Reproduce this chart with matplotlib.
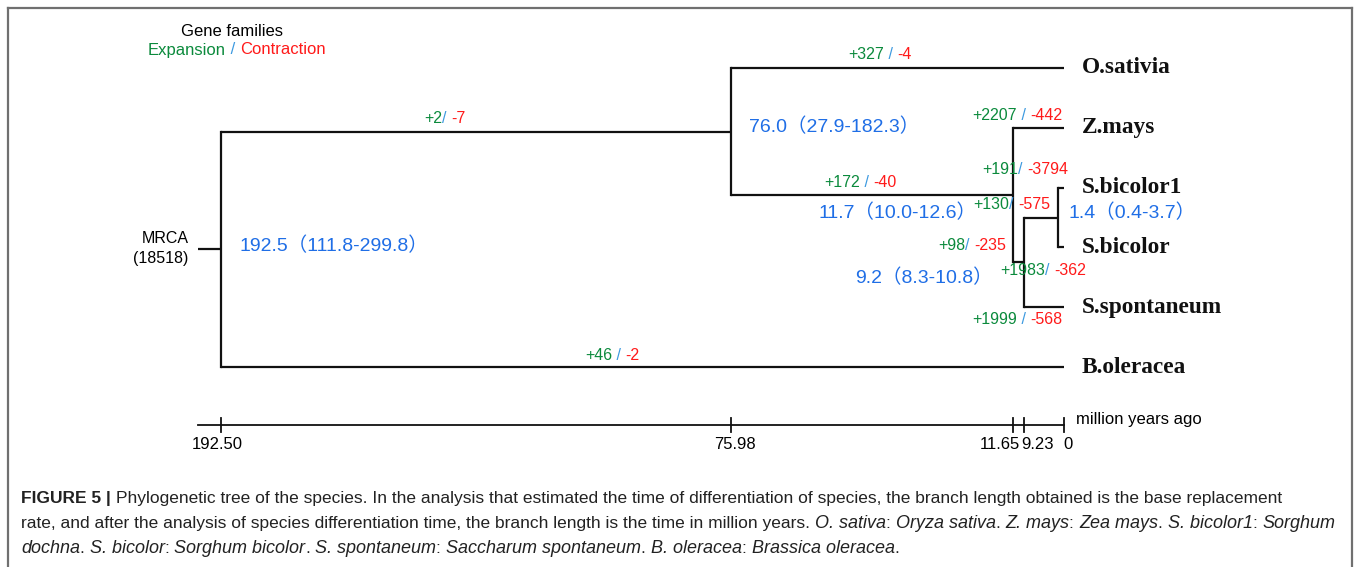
import matplotlib
matplotlib.use("Agg")
import matplotlib.pyplot as plt
from matplotlib.lines import Line2D
from matplotlib.transforms import IdentityTransform

# ---- data ----
species = ["O.sativia", "Z.mays", "S.bicolor1", "S.bicolor", "S.spontaneum", "B.oleracea"]
# tree topology (tip indexes into species) and node ages (Myr)
tree = ("root", [("A", [0, ("B", [1, ("C", [("D", [2, 3]), 4])])]), 5])
node_age = {"root": 192.50, "A": 75.98, "B": 11.65, "C": 9.23, "D": 1.40}

# divergence time estimates (mean, 95% interval)
div_mean = [192.5, 76.0, 11.7, 9.2, 1.4]
div_low = [111.8, 27.9, 10.0, 8.3, 0.4]
div_high = [299.8, 182.3, 12.6, 10.8, 3.7]

# gene family expansion / contraction
gains = ["+2", "+327", "+172", "+2207", "+191", "+130", "+98", "+1983", "+1999", "+46"]
losses = ["-7", "-4", "-40", "-442", "-3794", "-575", "-235", "-362", "-568", "-2"]
seps = ["/ ", " / ", " / ", " / ", "/ ", "/ ", "/ ", "/ ", " / ", " / "]

tick_values = [192.50, 75.98, 11.65, 9.23, 0]
tick_labels = ["192.50", "75.98", "11.65", "9.23", "0"]

# ---- layout ----
W, H = 1354, 567
GREEN, RED, SLASH, BLUE = "#0b8a3c", "#ff1a1a", "#3d9ae0", "#1f6ee6"
SANS = ["Liberation Sans", "Noto Sans CJK SC"]

# positions of the annotations (time, row)
gene_pos = [(141.4, 0.84), (42.0, -0.22), (46.6, 1.92), (10.7, 0.79), (8.9, 1.69),
            (11.9, 2.29), (21.0, 2.96), (4.8, 3.38), (10.7, 4.20), (103.2, 4.80)]
date_pos = [(188.2, 2.98), (71.9, 0.99), (56.2, 2.43), (47.7, 3.51), (-1.1, 2.43)]
axis_row = 5.97
tick_off = [-4, 4, -13, 14, 4]  # label offsets in px

fig = plt.figure(figsize=(W / 100, H / 100), dpi=100)
ax = fig.add_axes([0, 0, 1, 1])
ax.set_xlim(243.0, -66.2)
ax.set_ylim(8.344, -1.137)
ax.axis("off")

LW = 1.6


def draw(node, parent_age):
    if isinstance(node, int):
        ax.plot([parent_age, 0], [node, node], color="#111111", lw=LW, solid_capstyle="butt")
        return node
    name, kids = node
    age = node_age[name]
    ys = [draw(k, age) for k in kids]
    y = (ys[0] + ys[-1]) / 2
    ax.plot([age, age], [ys[0], ys[-1]], color="#111111", lw=LW, solid_capstyle="projecting")
    ax.plot([parent_age, age], [y, y], color="#111111", lw=LW, solid_capstyle="butt")
    return y


root_y = draw(tree, 197.8)

# tip labels
for i, sp in enumerate(species):
    ax.text(-4.0, i, sp, fontsize=16.8, fontweight="bold", family="Liberation Serif",
            va="center", ha="left", color="#111111")

# MRCA
ax.text(200.0, root_y - 0.18, "MRCA", fontsize=11.5, family=SANS, ha="right", va="center")
ax.text(200.0, root_y + 0.16, "(18518)", fontsize=11.5, family=SANS, ha="right", va="center")

# divergence times
for (t, r), m, lo, hi in zip(date_pos, div_mean, div_low, div_high):
    ax.text(t, r, f"{m}（{lo}-{hi}）", fontsize=14, family=SANS, color=BLUE,
            ha="left", va="center")

# time axis
ax.plot([197.8, 0], [axis_row, axis_row], color="#111111", lw=1.3)
for v, lab, off in zip(tick_values, tick_labels, tick_off):
    ax.plot([v, v], [axis_row - 0.11, axis_row + 0.11], color="#111111", lw=1.3)
    ax.annotate(lab, (v, axis_row + 0.32), xytext=(off * 0.72, 0), textcoords="offset points",
                fontsize=12, family=SANS, ha="center", va="center")
ax.text(-2.8, axis_row - 0.1, "million years ago", fontsize=12, family=SANS,
        ha="left", va="center")

renderer = fig.canvas.get_renderer()
ident = IdentityTransform()


def runs_at(x, y, runs, size, center=False, va="baseline"):
    arts = []
    for s, kw in runs:
        kw = dict(kw)
        sz = kw.pop("size", size)
        arts.append(fig.text(0, y, s, transform=ident, fontsize=sz, va=va, **kw))
    widths = [a.get_window_extent(renderer).width for a in arts]
    if center:
        x -= sum(widths) / 2
    for a, w in zip(arts, widths):
        a.set_x(x)
        x += w


# gene family labels
for (t, r), g, s, l in zip(gene_pos, gains, seps, losses):
    px, py = ax.transData.transform((t, r))
    runs_at(px, py, [(g, dict(color=GREEN, family=SANS)),
                     (s, dict(color=SLASH, family=SANS)),
                     (l, dict(color=RED, family=SANS))], 11.5, center=True, va="center")

# legend header
fig.text(232 / W, 1 - 32 / H, "Gene families", fontsize=12, family=SANS, ha="center", va="center")
runs_at(148, H - 50, [("Expansion", dict(color=GREEN, family=SANS)),
                      (" / ", dict(color=SLASH, family=SANS)),
                      ("Contraction", dict(color=RED, family=SANS))], 12, va="center")

# caption
cap = "#222222"
R = dict(family=SANS, color=cap)
B = dict(family=SANS, color=cap, fontweight="bold")
I = dict(family=SANS, color=cap, fontstyle="italic", size=13.0)
line1 = [("FIGURE 5", B), (" | ", B),
         ("Phylogenetic tree of the species. In the analysis that estimated the time of differentiation "
          "of species, the branch length obtained is the base replacement", R)]
line2 = [("rate, and after the analysis of species differentiation time, the branch length is the time "
          "in million years. ", R),
         ("O. sativa", I), (": ", R), ("Oryza sativa", I), (". ", R),
         ("Z. mays", I), (": ", R), ("Zea mays", I), (". ", R),
         ("S. bicolor1", I), (": ", R), ("Sorghum", I)]
line3 = [("dochna", I), (". ", R), ("S. bicolor", I), (": ", R), ("Sorghum bicolor", I), (". ", R),
         ("S. spontaneum", I), (": ", R), ("Saccharum spontaneum", I), (". ", R),
         ("B. oleracea", I), (": ", R), ("Brassica oleracea", I), (".", R)]
for k, line in enumerate([line1, line2, line3]):
    runs_at(21, H - (503 + 25 * k), line, 12.5)

# frame
for xs, ys in [([8, 8], [0, H - 8]), ([8, W - 2], [H - 8, H - 8]), ([W - 2, W - 2], [0, H - 8])]:
    fig.add_artist(Line2D([x / W for x in xs], [y / H for y in ys], transform=fig.transFigure,
                          color="#707070", lw=1.6))

fig.savefig("out.png", dpi=100)
